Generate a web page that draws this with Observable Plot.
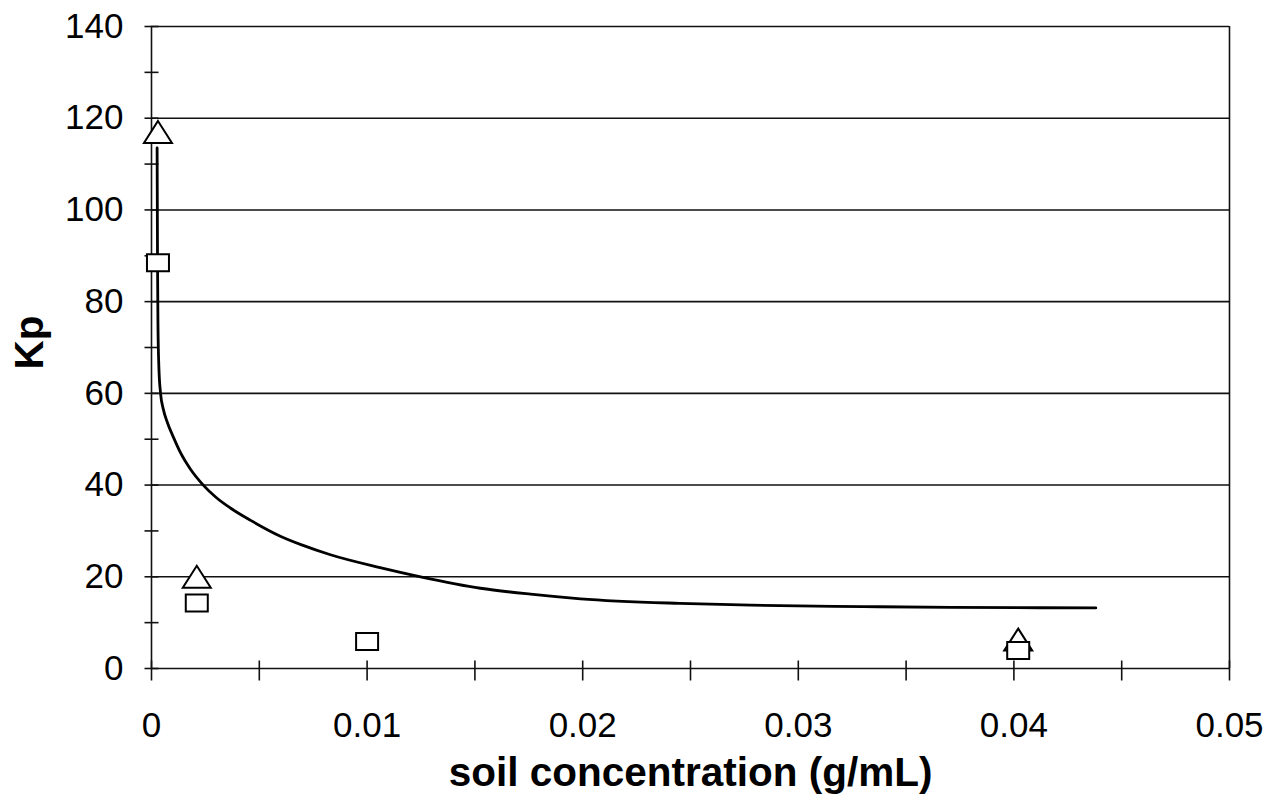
<!DOCTYPE html>
<html>
<head>
<meta charset="utf-8">
<script src="https://cdn.jsdelivr.net/npm/d3@7"></script>
<script src="https://cdn.jsdelivr.net/npm/@observablehq/plot@0.6"></script>
<style>
  html, body { margin: 0; padding: 0; background: #fff; }
  #chart svg { display: block; }
</style>
</head>
<body>
<div id="chart"></div>
<script>
// ---- data ----
const triangleX = [0.0003, 0.0021, 0.0402];
const triangleY = [117, 20, 6.3];

const squareX = [0.0003, 0.0021, 0.0100, 0.0402];
const squareY = [88.5, 14.3, 5.9, 3.9];

const curveX = [0.00026, 0.00028, 0.00030, 0.00034, 0.00042, 0.00055, 0.00074, 0.00102,
                0.00135, 0.0018, 0.0024, 0.0030, 0.00366, 0.0046, 0.0060, 0.0070,
                0.0083, 0.0106, 0.01248, 0.01526, 0.01758, 0.0199, 0.0245, 0.0278,
                0.0330, 0.0371, 0.0438];
const curveY = [113.5, 88, 75, 66, 60, 56.5, 53.6, 50.4,
                47, 43.5, 40, 37.3, 35, 32.3, 28.8, 26.9,
                24.8, 22, 20, 17.5, 16.2, 15.2, 14.2, 13.8,
                13.5, 13.35, 13.2];

const xTickLabels = [0, 0.01, 0.02, 0.03, 0.04, 0.05];
const xMinorTicks = [0, 0.005, 0.01, 0.015, 0.02, 0.025, 0.03, 0.035, 0.04, 0.045, 0.05];
const yTickLabels = [0, 20, 40, 60, 80, 100, 120, 140];
const yMinorTicks = [0, 10, 20, 30, 40, 50, 60, 70, 80, 90, 100, 110, 120, 130, 140];

const xTitle = "soil concentration (g/mL)";
const yTitle = "Kp";

// ---- tables built from the arrays ----
const triangles = triangleX.map((x, i) => ({x, y: triangleY[i]}));
const squares = squareX.map((x, i) => ({x, y: squareY[i]}));
const curve = curveX.map((x, i) => ({x, y: curveY[i]}));

// ---- custom symbols ----
const hTick = {draw(ctx, size) { const r = Math.sqrt(size / Math.PI); ctx.moveTo(-r, 0); ctx.lineTo(r, 0); }};
const vTick = {draw(ctx, size) { const r = Math.sqrt(size / Math.PI); ctx.moveTo(0, -r * 0.8); ctx.lineTo(0, r * 1.2); }};
const wideTriangle = {draw(ctx) { ctx.moveTo(0, -11); ctx.lineTo(14, 11); ctx.lineTo(-14, 11); ctx.closePath(); }};
const wideSquare = {draw(ctx) { ctx.moveTo(-11, -8.5); ctx.lineTo(11, -8.5); ctx.lineTo(11, 8.5); ctx.lineTo(-11, 8.5); ctx.closePath(); }};

const font = "'Liberation Sans', Arial, Helvetica, sans-serif";

const chart = Plot.plot({
  width: 1275,
  height: 800,
  marginLeft: 151,
  marginRight: 46,
  marginTop: 26,
  marginBottom: 132,
  style: {fontFamily: font, background: "#fff", color: "#000"},
  x: {domain: [0, 0.05]},
  y: {domain: [0, 140]},
  marks: [
    Plot.ruleY(yTickLabels, {stroke: "#111", strokeWidth: 1.6}),
    Plot.ruleX([0], {stroke: "#111", strokeWidth: 1.6}),
    Plot.ruleX([0.05], {stroke: "#111", strokeWidth: 1.6}),
    Plot.dot(yMinorTicks, {x: () => 0, y: d => d, symbol: hTick, r: 7, stroke: "#111", strokeWidth: 1.6, fill: "none"}),
    Plot.dot(xMinorTicks, {x: d => d, y: () => 0, symbol: vTick, r: 10, stroke: "#111", strokeWidth: 1.6, fill: "none"}),
    Plot.line(curve, {x: "x", y: "y", curve: "monotone-x", stroke: "#000", strokeWidth: 2.8}),
    Plot.dot(triangles, {x: "x", y: "y", symbol: wideTriangle, r: 10, fill: "#fff", stroke: "#000", strokeWidth: 2}),
    Plot.dot(squares, {x: "x", y: "y", symbol: wideSquare, r: 10, fill: "#fff", stroke: "#000", strokeWidth: 2}),
    Plot.axisX({ticks: xTickLabels, tickSize: 0, tickPadding: 44, fontSize: 35, label: null,
                tickFormat: d => d === 0 ? "0" : d3.format(".2f")(d)}),
    Plot.axisY({ticks: yTickLabels, tickSize: 0, tickPadding: 28, fontSize: 35, label: null,
                tickFormat: d => String(d)}),
    Plot.text([xTitle], {text: d => d, frameAnchor: "bottom", lineAnchor: "bottom", dy: 117,
                         fontSize: 40.5, fontWeight: "bold", fill: "#000"}),
    Plot.text([yTitle], {text: d => d, frameAnchor: "left", textAnchor: "middle", lineAnchor: "bottom",
                         dx: -109, dy: -5, rotate: -90, fontSize: 40.5, fontWeight: "bold", fill: "#000"})
  ]
});

document.getElementById("chart").appendChild(chart);
</script>
</body>
</html>
